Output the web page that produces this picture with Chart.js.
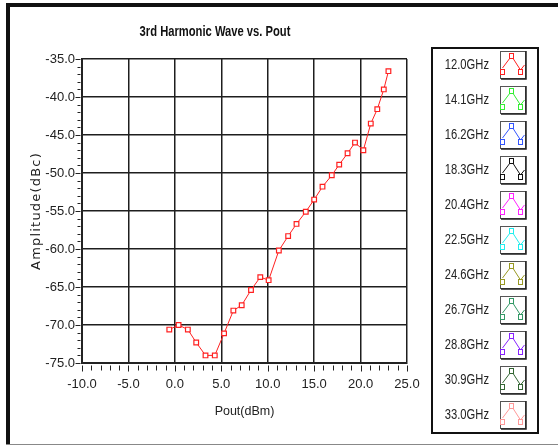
<!DOCTYPE html>
<html>
<head>
<meta charset="utf-8">
<script src="https://cdn.jsdelivr.net/npm/chart.js@4.4.1/dist/chart.umd.min.js"></script>
<style>
  html, body { margin: 0; padding: 0; background: #fff; }
  #wrap { width: 558px; height: 447px; }
</style>
</head>
<body>
<div id="wrap"><canvas id="harmonic-chart" width="558" height="447"></canvas></div>
<script>
// frequencies shown in the legend box
const freqLabels = ["12.0GHz", "14.1GHz", "16.2GHz", "18.3GHz", "20.4GHz", "22.5GHz",
  "24.6GHz", "26.7GHz", "28.8GHz", "30.9GHz", "33.0GHz"];
const freqColors = ["#ff2020", "#33ee33", "#3355ff", "#111111", "#ff22ff", "#22eeee",
  "#999922", "#339966", "#8822ff", "#336633", "#ff9999"];

// only the 12.0GHz trace has data in the picture
const poutDbm = [-0.6, 0.4, 1.4, 2.3, 3.3, 4.3, 5.3, 6.3, 7.2, 8.2, 9.2, 10.1, 11.2, 12.2,
  13.1, 14.1, 15.0, 15.9, 16.9, 17.7, 18.6, 19.4, 20.3, 21.1, 21.8, 22.5, 23.0];
const amp12GHz = [-70.6, -70.0, -70.6, -72.3, -74.0, -74.0, -71.1, -68.1, -67.4, -65.4, -63.7,
  -64.1, -60.2, -58.3, -56.7, -55.1, -53.5, -51.8, -50.3, -48.9, -47.4, -46.0, -47.0, -43.5,
  -41.6, -39.0, -36.6];

const xTickValues = [-10, -5, 0, 5, 10, 15, 20, 25];
const yTickValues = [-75, -70, -65, -60, -55, -50, -45, -40, -35];

const FONT = "'Liberation Sans', Arial, sans-serif";

const datasets = freqLabels.map((label, i) => ({
  label: label,
  data: i === 0 ? poutDbm.map((x, k) => ({ x: x, y: amp12GHz[k] })) : [],
  borderColor: freqColors[i],
  backgroundColor: "#fff",
  borderWidth: 1,
  pointStyle: "rect",
  pointRadius: 3.3,
  pointBorderWidth: 1.2,
  tension: 0,
}));

// frame, minor ticks, titles and legend box (drawn like the original instrument panel)
const panelPlugin = {
  id: "panel",
  afterDraw(chart) {
    const ctx = chart.ctx;
    const xs = chart.scales.x;
    const ys = chart.scales.y;
    const area = chart.chartArea;
    ctx.save();

    // outer frame
    ctx.fillStyle = "#111";
    ctx.fillRect(6, 3, 552, 4);
    ctx.fillRect(6, 3, 4, 442);
    ctx.fillStyle = "#888";
    ctx.fillRect(6, 444, 552, 1);

    // tick marks
    ctx.strokeStyle = "#222";
    ctx.lineWidth = 1;
    for (let v = -75; v <= -35; v++) {
      const y = Math.round(ys.getPixelForValue(v)) + 0.5;
      const len = v % 5 === 0 ? 5 : 3;
      ctx.beginPath();
      ctx.moveTo(area.left - 1.5 - len, y);
      ctx.lineTo(area.left - 1.5, y);
      ctx.stroke();
    }
    for (let v = -10; v <= 25; v++) {
      const x = Math.round(xs.getPixelForValue(v)) + 0.5;
      const len = v % 5 === 0 ? 6 : 5;
      ctx.beginPath();
      ctx.moveTo(x, area.bottom + 2.5);
      ctx.lineTo(x, area.bottom + 2.5 + len);
      ctx.stroke();
    }

    // title
    ctx.fillStyle = "#111";
    ctx.font = "bold 14px " + FONT;
    ctx.textAlign = "center";
    ctx.textBaseline = "middle";
    ctx.save();
    ctx.translate(215, 32);
    ctx.scale(0.8, 1);
    ctx.fillText("3rd Harmonic Wave vs. Pout", 0, 0);
    ctx.restore();

    // y axis title, letter-spaced like the original
    ctx.save();
    ctx.fillStyle = "#222";
    ctx.font = "13px 'DejaVu Sans', sans-serif";
    ctx.letterSpacing = "1.2px";
    ctx.translate(37, (area.top + area.bottom) / 2);
    ctx.rotate(-Math.PI / 2);
    ctx.fillText("Amplitude(dBc)", 0, 0);
    ctx.restore();

    // legend box
    ctx.strokeStyle = "#111";
    ctx.lineWidth = 2;
    ctx.strokeRect(432, 48, 106, 385);
    chart.data.datasets.forEach((ds, i) => {
      const top = 51 + i * 35;
      ctx.fillStyle = "#222";
      ctx.font = "14px " + FONT;
      ctx.textAlign = "right";
      ctx.textBaseline = "middle";
      ctx.save();
      ctx.translate(489, top + 14);
      ctx.scale(0.8, 1);
      ctx.fillText(ds.label, 0, 0);
      ctx.restore();

      // swatch
      ctx.fillStyle = "#fff";
      ctx.fillRect(500, top, 26, 28);
      ctx.strokeStyle = "#555";
      ctx.lineWidth = 1;
      ctx.strokeRect(500.5, top + 0.5, 25, 27);
      ctx.strokeStyle = "#222";
      ctx.lineWidth = 1.5;
      ctx.beginPath();
      ctx.moveTo(501, top + 28);
      ctx.lineTo(526, top + 28);
      ctx.lineTo(526, top);
      ctx.stroke();

      // little trace icon
      ctx.strokeStyle = ds.borderColor;
      ctx.lineWidth = 1;
      ctx.beginPath();
      ctx.moveTo(502.5, top + 17);
      ctx.lineTo(511.5, top + 5);
      ctx.lineTo(520.5, top + 19);
      ctx.lineTo(524.5, top + 14);
      ctx.stroke();
      [[511.5, top + 5], [502.5, top + 21], [520.5, top + 21]].forEach(([mx, my]) => {
        ctx.fillStyle = "#fff";
        ctx.fillRect(mx - 2, my - 2.5, 4, 5);
        ctx.strokeRect(mx - 2, my - 2.5, 4, 5);
      });
    });

    ctx.restore();
  },
};

new Chart(document.getElementById("harmonic-chart"), {
  type: "line",
  data: { datasets: datasets },
  options: {
    responsive: false,
    animation: false,
    layout: { padding: { left: 0, top: 59, right: 151, bottom: 0 } },
    plugins: {
      legend: { display: false },
      title: { display: false },
      tooltip: { enabled: false },
    },
    scales: {
      x: {
        type: "linear",
        min: -10,
        max: 25,
        afterBuildTicks: (s) => { s.ticks = xTickValues.map((v) => ({ value: v })); },
        afterFit: (s) => { s.height = 84; },
        grid: { color: "#1e1e1e", lineWidth: 1.5, drawTicks: false },
        border: { color: "#222", width: 2 },
        ticks: {
          padding: 14,
          color: "#222",
          maxRotation: 0,
          autoSkip: false,
          font: { family: FONT, size: 13 },
          callback: (v) => v.toFixed(1),
        },
        title: {
          display: true,
          text: "Pout(dBm)",
          color: "#222",
          font: { family: FONT, size: 12.5 },
          padding: { top: 0, bottom: 28 },
        },
      },
      y: {
        min: -75,
        max: -35,
        afterBuildTicks: (s) => { s.ticks = yTickValues.map((v) => ({ value: v })); },
        afterFit: (s) => { s.width = 82; },
        grid: { color: "#1e1e1e", lineWidth: 1.5, drawTicks: false },
        border: { color: "#222", width: 2 },
        ticks: {
          padding: 7,
          color: "#222",
          autoSkip: false,
          font: { family: FONT, size: 13 },
          callback: (v) => v.toFixed(1),
        },
        title: { display: false },
      },
    },
  },
  plugins: [panelPlugin],
});
</script>
</body>
</html>
